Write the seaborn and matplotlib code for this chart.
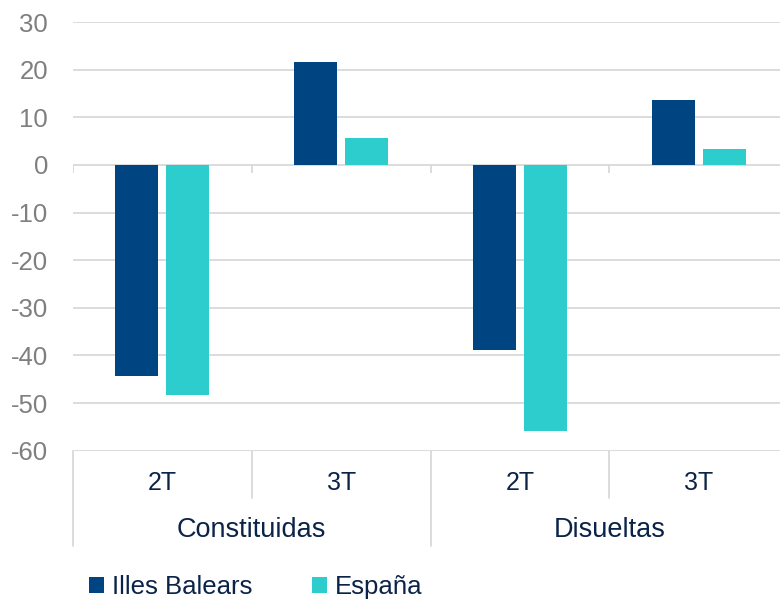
import matplotlib
matplotlib.use('Agg')
import matplotlib.pyplot as plt
import seaborn as sns
import pandas as pd
from matplotlib.transforms import blended_transform_factory

# ---- data ----
groups = ['Constituidas', 'Disueltas']
quarters = ['2T', '3T']
series = ['Illes Balears', 'España']
illes_balears = [-44.3, 21.5, -38.8, 13.7]
espana = [-48.3, 5.6, -55.8, 3.4]
yticks = list(range(-60, 31, 10))

colors = {'Illes Balears': '#004481', 'España': '#2DCCCD'}
text_dark = '#0a2347'
grid_c = '#d9d9d9'

sns.set_theme(style='white')
plt.rcParams['font.family'] = ['Liberation Sans', 'DejaVu Sans']

cats = [f'{g} {q}' for g in groups for q in quarters]
df = pd.DataFrame({
    'cat': cats * 2,
    'serie': [series[0]] * len(cats) + [series[1]] * len(cats),
    'valor': illes_balears + espana,
})

W, H = 780, 602
fig = plt.figure(figsize=(W / 100, H / 100), dpi=100)
left_px, top_px, bot_px = 73, 22, 450.7
ax = fig.add_axes([left_px / W, 1 - bot_px / H, 1 - left_px / W, (bot_px - top_px) / H])

sns.barplot(data=df, x='cat', y='valor', hue='serie', order=cats, hue_order=series,
            palette=colors, width=0.571, gap=0.157, errorbar=None, saturation=1,
            linewidth=0, ax=ax)

ax.set_ylim(-60, 30)
ax.set_xlim(-0.5, 3.455)
ax.set_yticks(yticks)
ax.set_yticklabels([str(t) for t in yticks])
ax.tick_params(axis='y', length=0, pad=18, labelsize=18.5, labelcolor='#7f7f7f')
ax.set_xticks(range(len(cats)))
ax.set_xticklabels([''] * len(cats))
ax.tick_params(axis='x', length=0)
ax.set_xlabel('')
ax.set_ylabel('')
for s in ax.spines.values():
    s.set_visible(False)
ax.grid(axis='y', color=grid_c, linewidth=1.3)
ax.set_axisbelow(True)

# tick marks at zero line between categories
for xb in [-0.5, 0.5, 1.5, 2.5]:
    ax.vlines(xb, -1.7, 0, color=grid_c, linewidth=1.3, zorder=0.5)

# multi-level category axis below the plot
tr = blended_transform_factory(ax.transData, ax.transAxes)
for xb in [0.5, 2.5]:
    ax.plot([xb, xb], [0, -0.11], transform=tr, color=grid_c, lw=1.3, clip_on=False)
for xb in [-0.5, 1.5, 3.5]:
    ax.plot([xb, xb], [0, -0.223], transform=tr, color=grid_c, lw=1.3, clip_on=False)

for i, c in enumerate(cats):
    q = c.split(' ')[1]
    ax.text(i, -0.0917, q, transform=tr, ha='center', va='baseline',
            fontsize=18, color=text_dark)
for gi, g in enumerate(groups):
    ax.text(gi * 2 + 0.5, -0.202, g, transform=tr, ha='center', va='baseline',
            fontsize=19.5, color=text_dark)

handles, labels = ax.get_legend_handles_labels()
ax.legend(handles, labels, loc='center left', bbox_to_anchor=(89 / W, 1 - 587 / H),
          bbox_transform=fig.transFigure, ncol=2, frameon=False, fontsize=18.5,
          handlelength=0.6, handleheight=0.6, handletextpad=0.3, columnspacing=2.3,
          borderpad=0, borderaxespad=0, labelcolor=text_dark)

fig.savefig('out.png', dpi=100)
